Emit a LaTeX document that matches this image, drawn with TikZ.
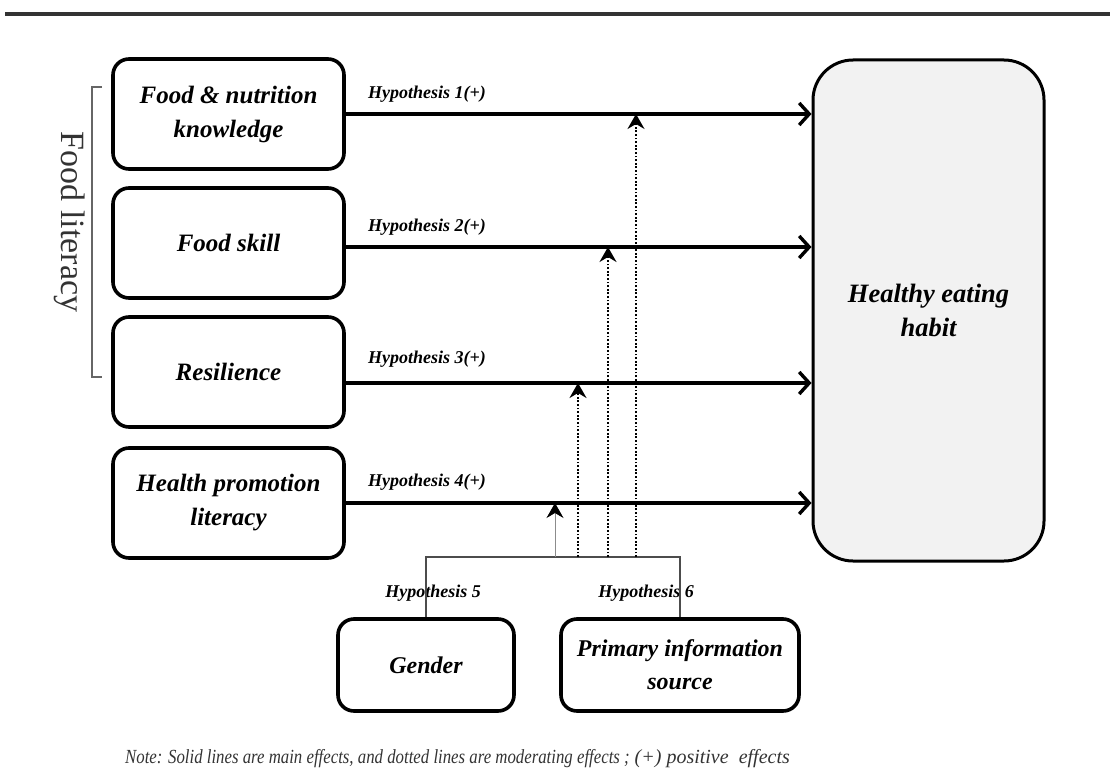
\documentclass[tikz,border=0pt]{standalone}
\usepackage{fontspec}
\setmainfont{Liberation Serif}
\usetikzlibrary{arrows.meta}
\begin{document}
\begin{tikzpicture}[x=1pt,y=-1pt,
  box/.style={draw, line width=3.6pt, rounded corners=16pt, align=center,
    font=\fontsize{25}{34}\selectfont\bfseries\itshape, inner sep=0pt,
    minimum width=231pt, minimum height=110pt},
  smallbox/.style={box, minimum height=92pt, font=\fontsize{24}{33}\selectfont\bfseries\itshape},
  bigbox/.style={draw, line width=3pt, rounded corners=40pt, fill=black!5,
    align=center, font=\fontsize{26.5}{34}\selectfont\bfseries\itshape,
    minimum width=231pt, minimum height=501pt},
  mainarrow/.style={line width=3.4pt, -{Straight Barb[length=10pt,width=22pt]}},
  modarrow/.style={line width=1.8pt, dash pattern=on 1.8pt off 1.8pt,
    -{Stealth[length=15pt,width=17pt,inset=5pt]}},
  thinarrow/.style={line width=0.8pt, draw=black!45,
    -{Stealth[length=15pt,width=17pt,inset=5pt,black]}},
  hyp/.style={font=\fontsize{18}{21}\selectfont\bfseries\itshape, inner sep=0pt},
  joinline/.style={line width=1.3pt, draw=black!70},
]
\useasboundingbox (0,0) rectangle (1110,781);
% top rule
\coordinate (ruleL) at (5,14);
\coordinate (ruleR) at (1110,14);
\draw[line width=3.2pt, black!80] (ruleL) -- (ruleR);

% left boxes
\node[box] (b1) at (228.5,114) {Food \& nutrition\\knowledge};
\node[box] (b2) at (228.5,243) {Food skill};
\node[box] (b3) at (228.5,372) {Resilience};
\node[box] (b4) at (228.5,503) {Health promotion\\literacy};
% outcome
\node[bigbox] (heb) at (928.5,310.5) {Healthy eating\\habit};
% moderators
\node[smallbox, minimum width=176pt] (gen) at (426,665) {Gender};
\node[smallbox, minimum width=238pt] (prim) at (680,665) {Primary information\\source};

% food literacy bracket
\coordinate (brT) at (102,87);
\coordinate (brTL) at (92,87);
\coordinate (brBL) at (92,377);
\coordinate (brB) at (102,377);
\draw[line width=1.3pt, black!60] (brT) -- (brTL) -- (brBL) -- (brB);
\node[rotate=-90, font=\fontsize{34}{34}\selectfont, text=black!80] (fl) at (70,222) {Food literacy};

% main arrows
\draw[mainarrow] (b1.east) -- (b1.east -| heb.west);
\draw[mainarrow] ([yshift=-4pt]b2.east) -- ([yshift=-4pt]b2.east -| heb.west);
\draw[mainarrow] ([yshift=-11pt]b3.east) -- ([yshift=-11pt]b3.east -| heb.west);
\draw[mainarrow] (b4.east) -- (b4.east -| heb.west);

% hypothesis labels
\node[hyp, anchor=base west] (h1) at (368,99) {Hypothesis 1(+)};
\node[hyp, anchor=base west] (h2) at (368,231) {Hypothesis 2(+)};
\node[hyp, anchor=base west] (h3) at (368,363) {Hypothesis 3(+)};
\node[hyp, anchor=base west] (h4) at (368,486) {Hypothesis 4(+)};
\node[hyp, anchor=base] (h5) at (433,597) {Hypothesis 5};
\node[hyp, anchor=base] (h6) at (646,597) {Hypothesis 6};

% moderator join line
\coordinate (jl) at (426,557);
\coordinate (jr) at (680,557);
\draw[joinline] (gen.north) -- (jl) -- (jr) -- (prim.north);

% moderating arrows
\coordinate (m1) at (636,557);
\coordinate (m2) at (608,557);
\coordinate (m3) at (578,557);
\coordinate (m4) at (555,557);
\coordinate (t1) at (636,114);
\coordinate (t2) at (608,247);
\coordinate (t3) at (578,383);
\coordinate (t4) at (555,503);
\draw[modarrow] (m1) -- (t1);
\draw[modarrow] (m2) -- (t2);
\draw[modarrow] (m3) -- (t3);
\draw[thinarrow] (m4) -- (t4);

% note
\node[anchor=base west, inner sep=0pt, text=black!80, font=\fontsize{20}{24}\selectfont\itshape] (note) at (125,763)
  {\scalebox{0.84}[1]{Note: Solid lines are main effects, and dotted lines are moderating effects ;}\ (+) positive\ \ effects};
\end{tikzpicture}
\end{document}
